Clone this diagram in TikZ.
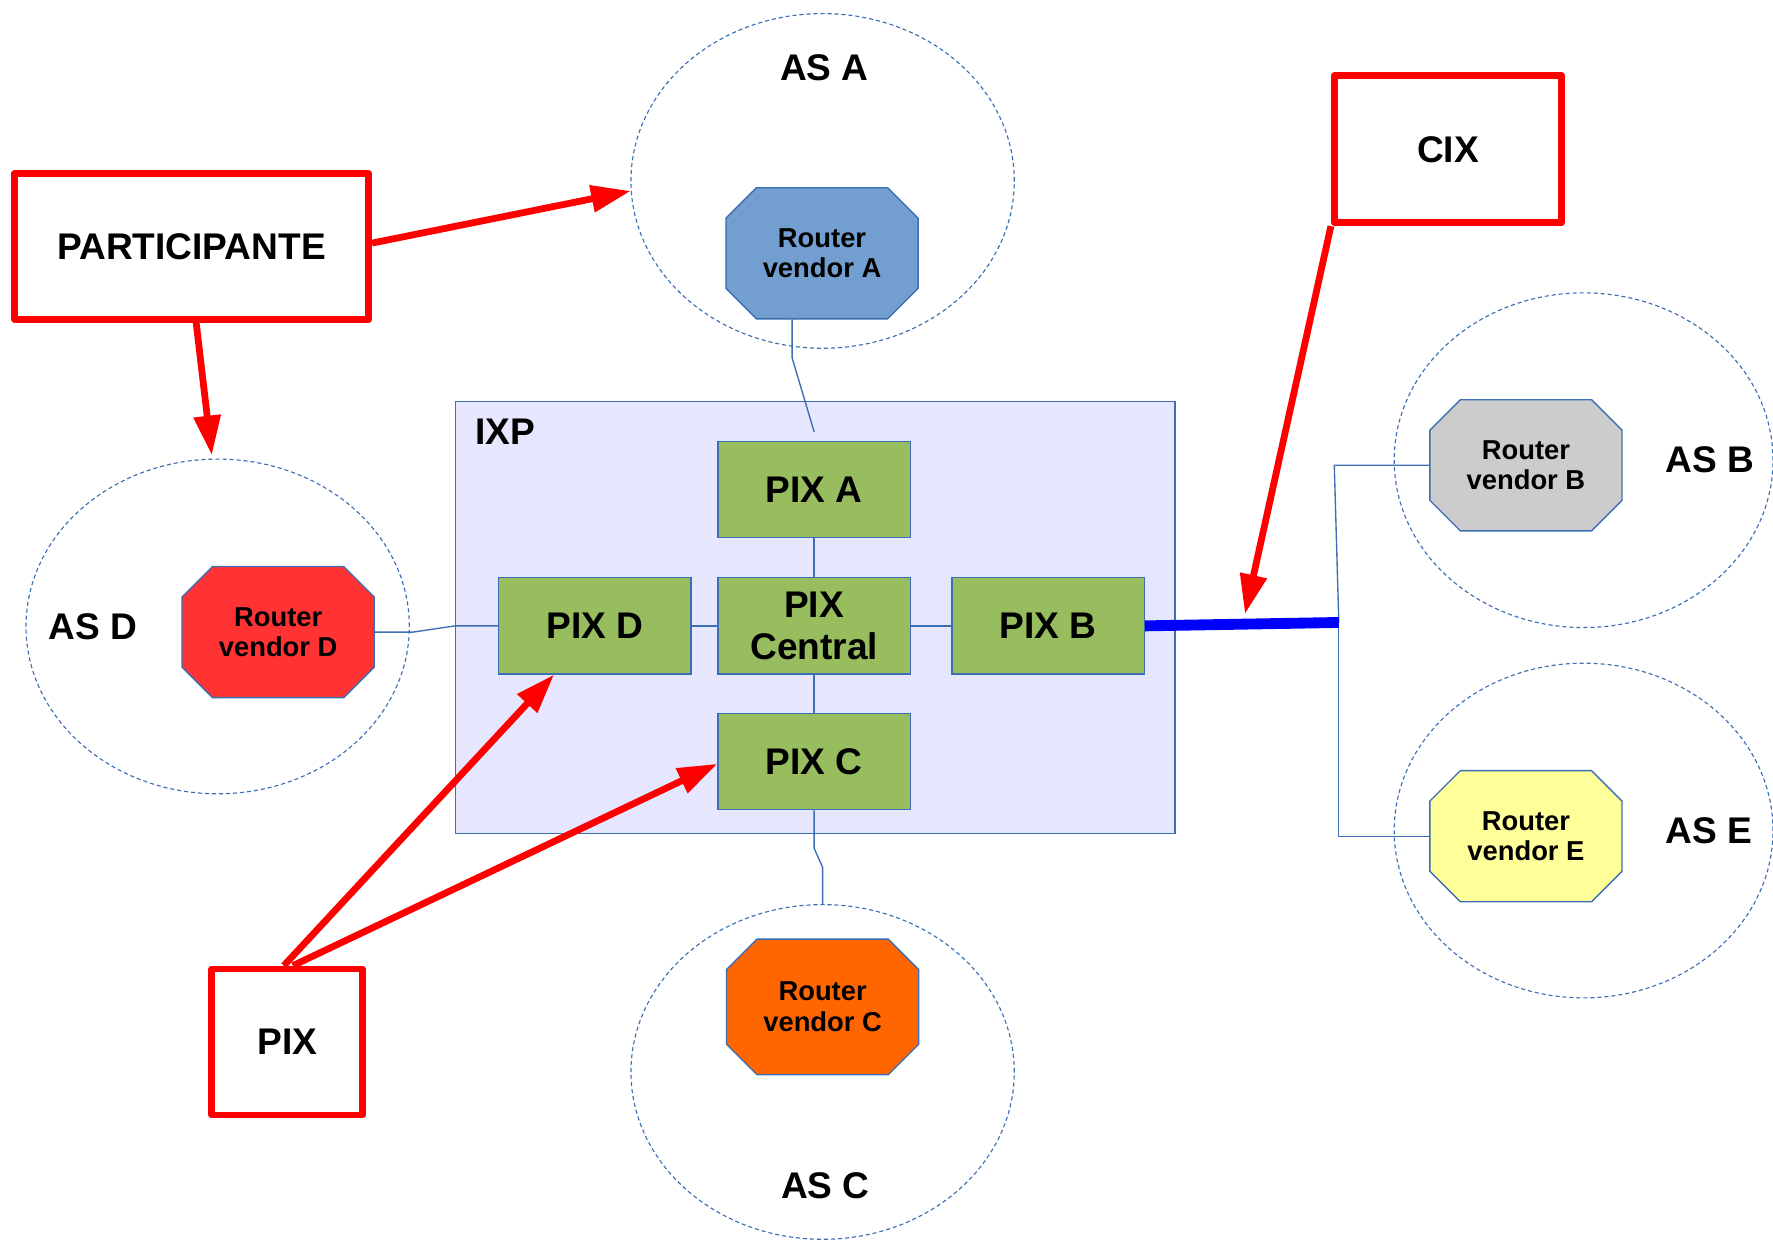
\documentclass[tikz,border=0pt]{standalone}
\usepackage{fontspec}
\setmainfont{Liberation Sans}
\usetikzlibrary{shapes.geometric,arrows.meta,calc}
\definecolor{lblue}{HTML}{3C6EB4}
\definecolor{pixgreen}{HTML}{98BD5E}
\definecolor{ixpfill}{HTML}{E6E6FF}
\definecolor{ra}{HTML}{729FCF}
\definecolor{rd}{HTML}{FF3333}
\definecolor{rb}{HTML}{CCCCCC}
\definecolor{re}{HTML}{FFFF99}
\definecolor{rc}{HTML}{FF6600}
\definecolor{redline}{HTML}{FF0000}
\definecolor{bigblue}{HTML}{0000FF}
\newcommand\octnode[6]{%
  \filldraw[octline, fill=#5] (#2,#3) ++(-58,-#4) -- ++(116,0) -- ++(27,27) -- ++(0,{2*#4-54}) -- ++(-27,27) -- ++(-116,0) -- ++(-27,-27) -- ++(0,{54-2*#4}) -- cycle;
  \node[rtext, minimum height=#4pt] (#1) at (#2,#3) {#6};}
\begin{document}
\begin{tikzpicture}[x=0.5pt,y=-0.5pt,
  asell/.style={ellipse, draw=lblue, dash pattern=on 1.8pt off 1.3pt, line width=0.5pt, inner sep=0pt, minimum width=169.5pt, minimum height=148pt},
  pixbox/.style={rectangle, draw=lblue, fill=pixgreen, line width=0.6pt, minimum width=85pt, minimum height=42.5pt, inner sep=0pt, font=\fontsize{16.4}{18.5}\selectfont\bfseries, align=center},
  rtext/.style={inner sep=0pt, minimum width=85pt, font=\fontsize{12.1}{13.5}\selectfont\bfseries, align=center},
  octline/.style={draw=lblue, line width=0.6pt},
  redbox/.style={rectangle, draw=redline, line width=3pt, line join=round, inner sep=0pt, font=\fontsize{16.4}{19}\selectfont\bfseries},
  big/.style={inner sep=0pt, font=\fontsize{16.4}{19}\selectfont\bfseries},
  link/.style={draw=lblue, line width=0.6pt},
  redarrow/.style={draw=redline, line width=3pt, -{Triangle[length=17.5pt,width=11.5pt]}}
]
\useasboundingbox (0,0) rectangle (1568,1096.7);
\fill[white] (0,0) rectangle (1568,1096.7);

% AS ellipses
\node[asell] (asA) at (727.5,160) {};
\node[asell] (asD) at (192.5,554) {};
\node[asell, minimum width=167.5pt] (asB) at (1400.5,407) {};
\node[asell, minimum width=167.5pt] (asE) at (1400.5,734.5) {};
\node[asell] (asC) at (727.5,948) {};

% IXP
\node[rectangle, draw=lblue, fill=ixpfill, line width=0.6pt, minimum width=318pt, minimum height=191pt, inner sep=0pt] (ixp) at (721,546) {};
\node[big, anchor=west] (ixpl) at (420,382) {IXP};

% PIX boxes
\node[pixbox] (pA) at (720,433) {PIX A};
\node[pixbox] (pD) at (526,553.5) {PIX D};
\node[pixbox] (pCen) at (720,553.5) {PIX\\Central};
\node[pixbox] (pB) at (927,553.5) {PIX B};
\node[pixbox] (pC) at (720,673.5) {PIX C};

% Routers
\octnode{rA}{727}{224}{58}{ra}{Router\\vendor A}
\octnode{rD}{246}{559}{58}{rd}{Router\\vendor D}
\octnode{rB}{1349.5}{411.5}{58}{rb}{Router\\vendor B}
\octnode{rE}{1349.5}{739.5}{58}{re}{Router\\vendor E}
\octnode{rC}{727.5}{890.5}{60}{rc}{Router\\vendor C}

% AS labels
\node[big] (lA) at (729,60) {AS A};
\node[big] (lD) at (82,554) {AS D};
\node[big] (lB) at (1512,407) {AS B};
\node[big] (lE) at (1511,735) {AS E};
\node[big] (lC) at (730,1049) {AS C};

% Red boxes
\node[redbox, minimum width=156.5pt, minimum height=64.5pt] (part) at (169.5,218) {\raisebox{-1pt}{PARTICIPANTE}};
\node[redbox, minimum width=100.5pt, minimum height=65pt] (cix) at (1280.5,132) {\raisebox{-1pt}{CIX}};
\node[redbox, minimum width=66.75pt, minimum height=64.5pt] (pixr) at (254,921.5) {\raisebox{-1pt}{PIX}};

% Connectors
\draw[link] ([xshift=-13.25pt]rA.south) -- ++(0,34) -- ([yshift=4pt]pA.north);
\draw[link] (pA.south) -- (pCen.north);
\draw[link] (pCen.south) -- (pC.north);
\draw[link] (pD.east) -- (pCen.west);
\draw[link] (pCen.east) -- (pB.west);
\draw[link] (rD.east) -- ++(34,0) -- (ixp.west |- pD.west) -- (pD.west);
\draw[link] (pC.south) -- ++(0,33.5) -- ++(7.5,17) -- (asC.north);
\coordinate (bj) at (1184,550.5);
\draw[link] (bj) -- (1180,411.5) -- (rB.west);
\draw[link] (bj) |- (rE.west);
\draw[bigblue, line width=4.8pt] (pB.east) -- (bj);

% Red arrows
\coordinate (cixtip) at (1101,543);
\draw[redarrow] ([yshift=1.5pt]part.east) -- (asA.183);
\draw[redarrow] ([xshift=2pt]part.south) -- ([yshift=1.5pt]asD.92);
\draw[redarrow] (cix.south west) -- (cixtip);
\draw[redarrow] ([xshift=-1.5pt]pixr.north) -- ([xshift=-18pt]pD.south);
\draw[redarrow] ([xshift=2.5pt]pixr.north) -- ([yshift=-1pt]pC.west);
\end{tikzpicture}
\end{document}
